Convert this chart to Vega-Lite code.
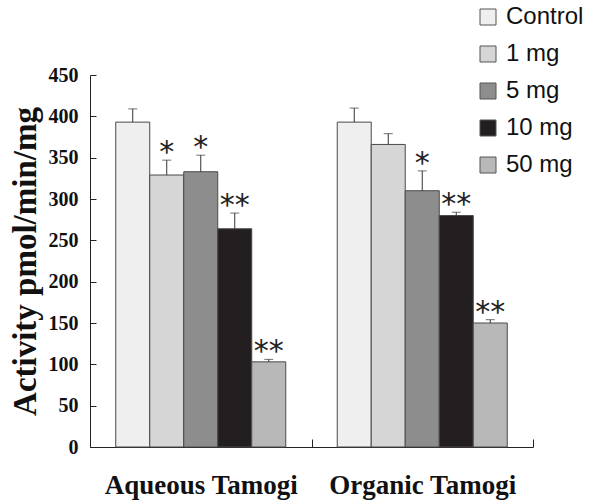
{
  "$schema": "https://vega.github.io/schema/vega-lite/v6.json",
  "width": 443,
  "height": 372,
  "autosize": "none",
  "padding": {"left": 90, "top": 75, "right": 56, "bottom": 54},
  "background": "white",
  "config": {"view": {"stroke": null}},
  "data": {
    "values": [
      {"group": "Aqueous Tamogi", "dose": "Control", "value": 393, "upper": 409, "sig": ""},
      {"group": "Aqueous Tamogi", "dose": "1 mg", "value": 329, "upper": 347, "sig": "*"},
      {"group": "Aqueous Tamogi", "dose": "5 mg", "value": 333, "upper": 353, "sig": "*"},
      {"group": "Aqueous Tamogi", "dose": "10 mg", "value": 264, "upper": 283, "sig": "**"},
      {"group": "Aqueous Tamogi", "dose": "50 mg", "value": 103, "upper": 106, "sig": "**"},
      {"group": "Organic Tamogi", "dose": "Control", "value": 393, "upper": 410, "sig": ""},
      {"group": "Organic Tamogi", "dose": "1 mg", "value": 366, "upper": 379, "sig": ""},
      {"group": "Organic Tamogi", "dose": "5 mg", "value": 310, "upper": 334, "sig": "*"},
      {"group": "Organic Tamogi", "dose": "10 mg", "value": 280, "upper": 284, "sig": "**"},
      {"group": "Organic Tamogi", "dose": "50 mg", "value": 150, "upper": 154, "sig": "**"}
    ]
  },
  "encoding": {
    "x": {
      "field": "group", "type": "nominal",
      "sort": ["Aqueous Tamogi", "Organic Tamogi"],
      "scale": {"paddingInner": 0, "paddingOuter": 0},
      "axis": {
        "title": null, "labelAngle": 0, "labelLimit": 0,
        "labelFont": "Liberation Serif", "labelFontWeight": "bold", "labelFontSize": 27,
        "labelColor": "#111", "labelPadding": 33,
        "tickBand": "extent", "tickSize": -8, "tickColor": "#222", "domainColor": "#222"
      }
    },
    "xOffset": {
      "field": "dose", "type": "nominal",
      "sort": ["Control", "1 mg", "5 mg", "10 mg", "50 mg"],
      "scale": {"paddingInner": 0, "paddingOuter": 0.757}
    }
  },
  "layer": [
    {
      "mark": {"type": "bar", "stroke": "#4a4a4a", "strokeWidth": 1},
      "encoding": {
        "y": {
          "field": "value", "type": "quantitative",
          "scale": {"domain": [0, 450], "nice": false},
          "axis": {
            "title": "Activity pmol/min/mg",
            "titleFont": "Liberation Serif", "titleFontWeight": "bold", "titleFontSize": 33,
            "titleColor": "#111", "titlePadding": 6,
            "values": [0, 50, 100, 150, 200, 250, 300, 350, 400, 450],
            "labelFont": "Liberation Serif", "labelFontWeight": "bold", "labelFontSize": 20,
            "labelColor": "#111", "labelPadding": 18,
            "tickSize": -6, "tickColor": "#222", "domainColor": "#222", "grid": false
          }
        },
        "fill": {
          "field": "dose", "type": "nominal",
          "sort": ["Control", "1 mg", "5 mg", "10 mg", "50 mg"],
          "scale": {
            "domain": ["Control", "1 mg", "5 mg", "10 mg", "50 mg"],
            "range": ["#efefef", "#d6d6d6", "#8d8d8d", "#231f20", "#b8b8b8"]
          },
          "legend": {
            "title": null, "orient": "none", "legendX": 386, "legendY": -70,
            "padding": 0, "symbolType": "square", "symbolSize": 256,
            "symbolStrokeColor": "#555", "symbolStrokeWidth": 1, "symbolOpacity": 1,
            "labelFont": "Liberation Sans", "labelFontSize": 24, "labelColor": "#111",
            "labelOffset": 6, "rowPadding": 13, "labelLimit": 0
          }
        }
      }
    },
    {
      "mark": {"type": "rule", "color": "#333", "strokeWidth": 1},
      "encoding": {
        "y": {"field": "value", "type": "quantitative"},
        "y2": {"field": "upper"}
      }
    },
    {
      "mark": {"type": "tick", "color": "#333", "thickness": 1, "size": 9, "orient": "horizontal"},
      "encoding": {
        "y": {"field": "upper", "type": "quantitative"}
      }
    },
    {
      "mark": {"type": "text", "font": "DejaVu Sans", "fontSize": 30, "baseline": "alphabetic", "dy": 2, "color": "#222"},
      "encoding": {
        "y": {"field": "upper", "type": "quantitative"},
        "text": {"field": "sig"}
      }
    }
  ]
}
